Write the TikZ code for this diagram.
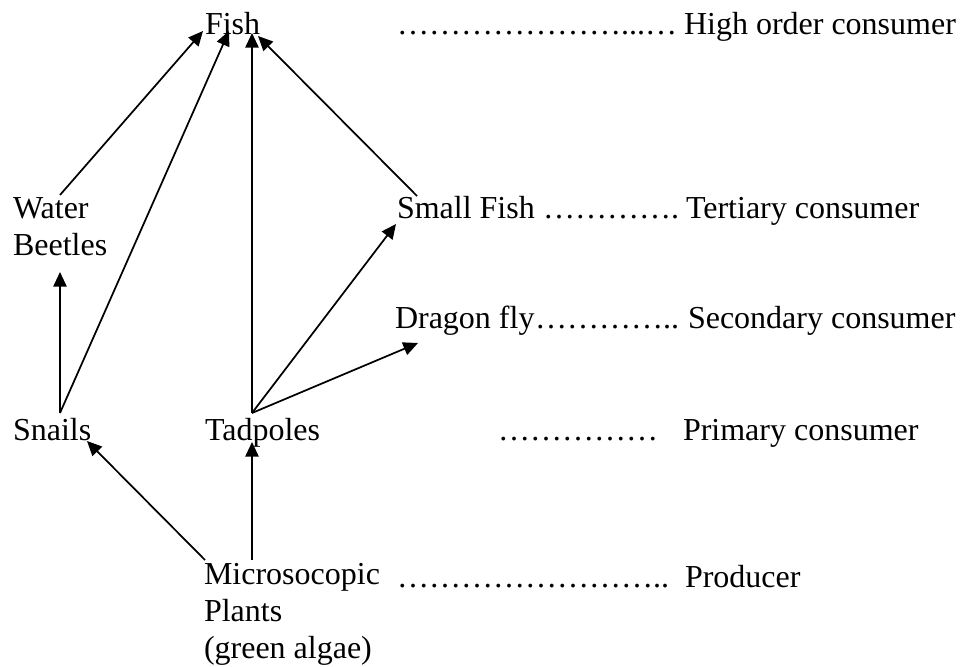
\documentclass[tikz,border=0pt]{standalone}
\usepackage{fontspec}
\setmainfont{Liberation Serif}
\usetikzlibrary{arrows.meta,calc}
\newcommand\lel{…}
\begin{document}
\begin{tikzpicture}[x=0.75pt,y=-0.75pt,
  txt/.style={inner sep=0pt,outer sep=0pt,anchor=base west,align=left,
    font=\fontsize{24}{27.75}\selectfont},
  feed/.style={line width=1.3pt,-{Triangle[length=11pt,width=10pt]}}]
\useasboundingbox (0,0) rectangle (961,667);

% organisms (multi-line nodes sit on the baseline of their last line)
\node[txt] (fish) at (205,35) {Fish};
\node[txt] (wb)   at (13,255) {Water\\Beetles};
\node[txt] (sf)   at (397,218) {Small Fish};
\node[txt] (df)   at (395,328) {Dragon fly};
\node[txt] (sn)   at (13,440) {Snails};
\node[txt] (tp)   at (205,440) {Tadpoles};
\node[txt] (mp)   at (204,658) {Microsocopic\\Plants\\(green algae)};

% dotted leaders
\node[txt] (d1) at (397,35)  {\lel\lel\lel\lel\lel\lel\lel...\lel};
\node[txt] (d2) at (543,218) {\lel\lel\lel\lel.};
\node[txt] (d3) at (535,328) {\lel\lel\lel\lel..};
\node[txt] (d4) at (498,440) {\lel\lel\lel\lel\lel};
\node[txt] (d5) at (397,587) {\lel\lel\lel\lel\lel\lel\lel\lel..};

% trophic levels
\node[txt] (l1) at (684,35)  {High order consumer};
\node[txt] (l2) at (686,218) {Tertiary consumer};
\node[txt] (l3) at (688,328) {Secondary consumer};
\node[txt] (l4) at (683,440) {Primary consumer};
\node[txt] (l5) at (685,587) {Producer};

% feeding links
\draw[feed] ($(wb.base west)+(47,-60)$) -- ($(fish.base west)+(-2,-4)$);
\draw[feed] ($(sn.base west)+(47,-27)$) -- ($(fish.base west)+(24,-4)$);
\draw[feed] ($(sn.base west)+(47,-27)$) -- ($(wb.base west)+(47,17)$);
\draw[feed] ($(tp.base west)+(47,-27)$) -- ($(fish.base west)+(47,-2)$);
\draw[feed] ($(sf.base west)+(20,-22)$) -- ($(fish.base west)+(53,1)$);
\draw[feed] ($(tp.base west)+(47,-27)$) -- ($(sf.base west)+(-1,6)$);
\draw[feed] ($(tp.base west)+(47,-27)$) -- ($(df.base west)+(23,15)$);
\draw[feed] ($(mp.base west)+(1,-98)$) -- ($(sn.base west)+(74,1)$);
\draw[feed] ($(mp.base west)+(48,-98)$) -- ($(tp.base west)+(47,2)$);
\end{tikzpicture}
\end{document}
